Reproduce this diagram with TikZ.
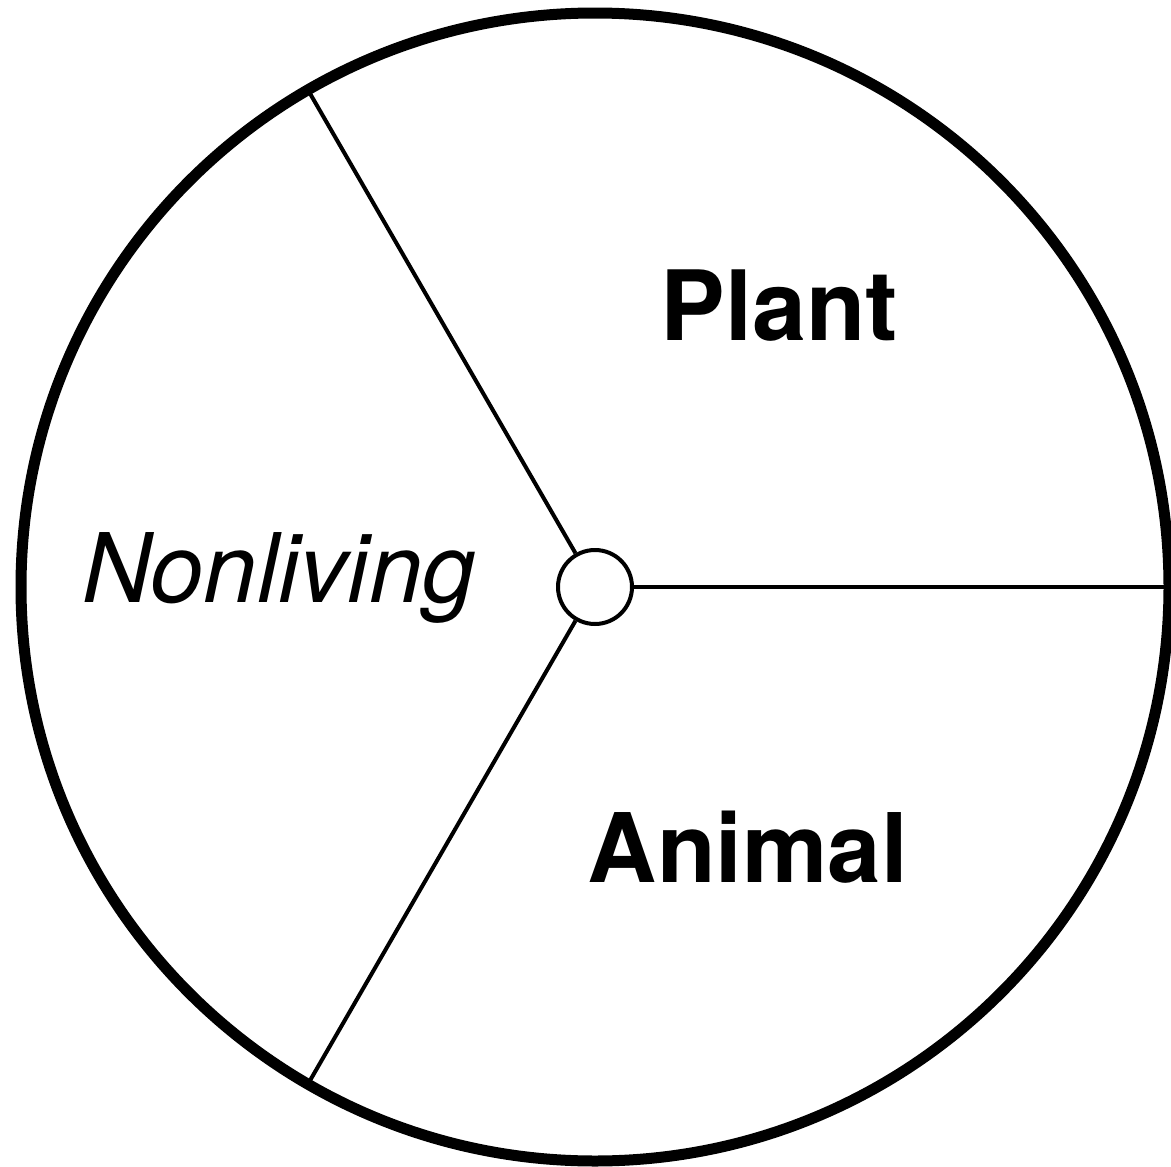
\documentclass[tikz,border=0pt]{standalone}
\usepackage{fontspec}
\setmainfont{TeX Gyre Heros}
\begin{document}
\begin{tikzpicture}[x=1pt,y=-1pt,
  lbl/.style={anchor=base,inner sep=0pt},
  spoke/.style={line width=4pt}]
\useasboundingbox (0,0) rectangle (1171,1167);
\coordinate (c) at (595,587);
\draw[line width=11pt] (c) circle[radius=574];
\node[draw,circle,line width=4pt,minimum size=74pt,inner sep=0pt,fill=white] (hub) at (c) {};
\coordinate (r1) at (308,90);
\coordinate (r2) at (308,1084);
\coordinate (r0) at (1168,587);
\draw[spoke] (hub) -- (r1);
\draw[spoke] (hub) -- (r2);
\draw[spoke] (hub) -- (r0);
\node[lbl,font=\fontsize{97}{120}\selectfont\bfseries] (plant) at (779,340) {Plant};
\node[lbl,font=\fontsize{96}{120}\selectfont\bfseries] (animal) at (748,882) {Animal};
\node[lbl,font=\fontsize{96}{120}\selectfont\itshape] (nonliving) at (279,602) {Nonliving};
\end{tikzpicture}
\end{document}
